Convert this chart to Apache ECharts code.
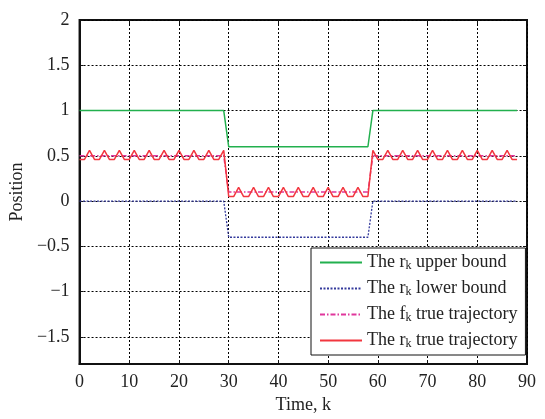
<!DOCTYPE html>
<html>
<head>
<meta charset="utf-8">
<script src="https://cdn.jsdelivr.net/npm/echarts@6/dist/echarts.min.js"></script>
<style>html,body{margin:0;padding:0;background:#fff}#c{width:545px;height:419px}</style>
</head>
<body>
<div id="c"></div>
<script>
var timeK = [0,1,2,3,4,5,6,7,8,9,10,11,12,13,14,15,16,17,18,19,20,21,22,23,24,25,26,27,28,29,
30,31,32,33,34,35,36,37,38,39,40,41,42,43,44,45,46,47,48,49,50,51,52,53,54,55,56,57,58,
59,60,61,62,63,64,65,66,67,68,69,70,71,72,73,74,75,76,77,78,79,80,81,82,83,84,85,86,87,88];
var upperBound = [1,1,1,1,1,1,1,1,1,1,1,1,1,1,1,1,1,1,1,1,1,1,1,1,1,1,1,1,1,1,
0.6,0.6,0.6,0.6,0.6,0.6,0.6,0.6,0.6,0.6,0.6,0.6,0.6,0.6,0.6,0.6,0.6,0.6,0.6,0.6,0.6,0.6,0.6,0.6,0.6,0.6,0.6,0.6,0.6,
1,1,1,1,1,1,1,1,1,1,1,1,1,1,1,1,1,1,1,1,1,1,1,1,1,1,1,1,1,1];
var lowerBound = [0,0,0,0,0,0,0,0,0,0,0,0,0,0,0,0,0,0,0,0,0,0,0,0,0,0,0,0,0,0,
-0.4,-0.4,-0.4,-0.4,-0.4,-0.4,-0.4,-0.4,-0.4,-0.4,-0.4,-0.4,-0.4,-0.4,-0.4,-0.4,-0.4,-0.4,-0.4,-0.4,-0.4,-0.4,-0.4,-0.4,-0.4,-0.4,-0.4,-0.4,-0.4,
0,0,0,0,0,0,0,0,0,0,0,0,0,0,0,0,0,0,0,0,0,0,0,0,0,0,0,0,0,0];
var fTrue = [0.5,0.5,0.5,0.5,0.5,0.5,0.5,0.5,0.5,0.5,0.5,0.5,0.5,0.5,0.5,0.5,0.5,0.5,0.5,0.5,0.5,0.5,0.5,0.5,0.5,0.5,0.5,0.5,0.5,0.5,
0.1,0.1,0.1,0.1,0.1,0.1,0.1,0.1,0.1,0.1,0.1,0.1,0.1,0.1,0.1,0.1,0.1,0.1,0.1,0.1,0.1,0.1,0.1,0.1,0.1,0.1,0.1,0.1,0.1,
0.5,0.5,0.5,0.5,0.5,0.5,0.5,0.5,0.5,0.5,0.5,0.5,0.5,0.5,0.5,0.5,0.5,0.5,0.5,0.5,0.5,0.5,0.5,0.5,0.5,0.5,0.5,0.5,0.5,0.5];
var rTrue = [0.46,0.46,0.56,0.46,0.46,0.56,0.46,0.46,0.56,0.46,0.46,0.56,0.46,0.46,0.56,0.46,0.46,0.56,0.46,0.46,0.56,0.46,0.46,0.56,0.46,0.46,0.56,0.46,0.46,0.56,
0.05,0.05,0.15,0.05,0.05,0.15,0.05,0.05,0.15,0.05,0.05,0.15,0.05,0.05,0.15,0.05,0.05,0.15,0.05,0.05,0.15,0.05,0.05,0.15,0.05,0.05,0.15,0.05,0.05,
0.56,0.46,0.46,0.56,0.46,0.46,0.56,0.46,0.46,0.56,0.46,0.46,0.56,0.46,0.46,0.56,0.46,0.46,0.56,0.46,0.46,0.56,0.46,0.46,0.56,0.46,0.46,0.56,0.46,0.46];
var xTicks = [0,10,20,30,40,50,60,70,80,90];
var yTicks = [-1.5,-1,-0.5,0,0.5,1,1.5,2];
var seriesNames = ['upper','lower','ftrue','rtrue'];
var legendTexts = {
  upper: 'The {v|r}{s|k} upper bound',
  lower: 'The {v|r}{s|k} lower bound',
  ftrue: 'The {v|f}{s|k} true trajectory',
  rtrue: 'The {v|r}{s|k} true trajectory'
};

function zip(ys){ return timeK.map(function(k,i){ return [k, ys[i]]; }); }
var FONT = '"Liberation Serif", "DejaVu Serif", serif';
var chart = echarts.init(document.getElementById('c'));
var gridLine = {show:true, lineStyle:{color:'#000', type:[2,2], width:1}};
chart.setOption({
  animation:false,
  backgroundColor:'#fff',
  grid:{left:78, right:18, top:20, bottom:48, show:true, borderColor:'#111', borderWidth:2, backgroundColor:'transparent'},
  xAxis:[{
    type:'value', min:xTicks[0], max:xTicks[xTicks.length-1], interval:10,
    name:'Time, k', nameLocation:'middle', nameGap:32,
    nameTextStyle:{fontFamily:FONT, fontSize:18, color:'#222'},
    axisLine:{show:true, onZero:false, lineStyle:{color:'#111', width:2}},
    axisTick:{show:true, inside:true, length:4, lineStyle:{color:'#111'}},
    axisLabel:{fontFamily:FONT, fontSize:18, color:'#222', margin:9},
    splitLine:gridLine
  },{
    type:'value', position:'top', min:0, max:90, interval:10,
    axisLine:{show:false, onZero:false}, axisTick:{show:true, inside:true, length:4, lineStyle:{color:'#111'}},
    axisLabel:{show:false}, splitLine:{show:false}
  }],
  yAxis:[{
    type:'value', min:-1.8, max:2,
    name:'Position', nameLocation:'middle', nameGap:40,
    nameTextStyle:{fontFamily:FONT, fontSize:18, color:'#222'},
    axisLine:{show:true, onZero:false, lineStyle:{color:'#111', width:2}},
    axisTick:{show:true, inside:true, length:4, lineStyle:{color:'#111'}, customValues:yTicks},
    axisLabel:{fontFamily:FONT, fontSize:18, color:'#222', margin:10, customValues:yTicks,
      formatter:function(v){ return String(v).replace('-', '\u2212'); }},
    splitLine:gridLine
  },{
    type:'value', position:'right', min:-1.8, max:2,
    axisLine:{show:false, onZero:false},
    axisTick:{show:true, inside:true, length:4, lineStyle:{color:'#111'}, customValues:yTicks},
    axisLabel:{show:false, customValues:yTicks}, splitLine:{show:false}
  }],
  legend:{
    orient:'vertical', left:311, top:248,
    data:seriesNames,
    backgroundColor:'#fff', borderColor:'#111', borderWidth:1,
    padding:[5,8,5,8], itemWidth:42, itemHeight:14, itemGap:7,
    itemStyle:{opacity:0},
    formatter:function(n){ return legendTexts[n]; },
    textStyle:{fontFamily:FONT, fontSize:18, color:'#222', lineHeight:19,
      rich:{
        v:{fontFamily:FONT, fontSize:18, color:'#222', lineHeight:19},
        s:{fontFamily:FONT, fontSize:12, color:'#222', lineHeight:12, verticalAlign:'bottom', padding:[7,0,0,0]}
      }}
  },
  series:[
    {name:'upper', type:'line', data:zip(upperBound), symbol:'none', color:'#22b04e',
      lineStyle:{color:'#22b04e', width:1.5, type:'solid'}},
    {name:'lower', type:'line', data:zip(lowerBound), symbol:'none', color:'#343a9c',
      lineStyle:{color:'#343a9c', width:1.3, type:[2,1.5]}},
    {name:'ftrue', type:'line', data:zip(fTrue), symbol:'none', color:'#e0369c',
      lineStyle:{color:'#e0369c', width:1.5, type:[5,2,1.5,2]}},
    {name:'rtrue', type:'line', data:zip(rTrue), symbol:'none', color:'#f2363f',
      lineStyle:{color:'#f2363f', width:1.5, type:'solid'}}
  ]
});
</script>
</body>
</html>
